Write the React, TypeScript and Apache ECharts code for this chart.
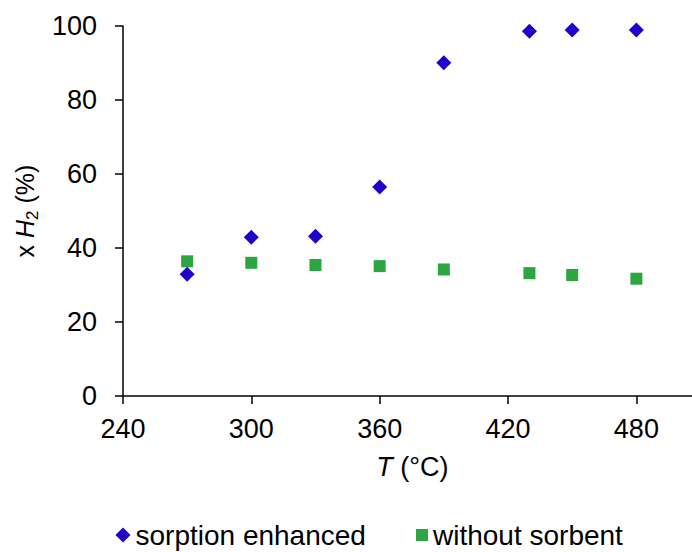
import React, { useEffect, useRef } from "react";
import * as echarts from "echarts";

const temperatures = [270, 300, 330, 360, 390, 430, 450, 480];
const sorptionEnhanced = [32.9, 42.9, 43.2, 56.5, 90.1, 98.6, 98.9, 98.9];
const withoutSorbent = [36.4, 36.0, 35.4, 35.1, 34.2, 33.2, 32.7, 31.7];
const xTicks = [240, 300, 360, 420, 480];
const seriesNames = ["sorption enhanced", "without sorbent"];

const FONT = "'Liberation Sans', Arial, sans-serif";
const BLUE = "#2200CC";
const GREEN = "#2BA640";

export default function App() {
  const ref = useRef<HTMLDivElement>(null);
  useEffect(() => {
    document.body.style.margin = "0";
    const chart = echarts.init(ref.current!, null, { renderer: "svg" });
    const pairs = (ys: number[]) => temperatures.map((t, i) => [t, ys[i]]);
    chart.setOption({
      animation: false,
      backgroundColor: "#ffffff",
      textStyle: { fontFamily: FONT, color: "#000" },
      grid: { left: 119.5, top: 26, right: 0, bottom: 156 },
      xAxis: {
        type: "value",
        min: 240,
        max: 506,
        interval: 60,
        name: "{i|T}{n| (°C)}",
        nameLocation: "middle",
        nameGap: 57,
        nameTextStyle: {
          padding: [0, 0, 0, 10],
          rich: {
            i: { fontFamily: FONT, fontSize: 27, fontStyle: "italic", color: "#000", lineHeight: 27 },
            n: { fontFamily: FONT, fontSize: 27, color: "#000", lineHeight: 27 },
          },
        },
        axisLine: { show: true, onZero: false, lineStyle: { color: "#000", width: 1.5 } },
        axisTick: { show: true, inside: false, length: 8, customValues: xTicks, lineStyle: { color: "#000", width: 1.5 } },
        axisLabel: { margin: 19, fontSize: 27, color: "#000", fontFamily: FONT, customValues: xTicks },
        splitLine: { show: false },
      },
      yAxis: {
        type: "value",
        min: 0,
        max: 100,
        interval: 20,
        name: "{n|x }{i|H}{s|2}{n| (%)}",
        nameLocation: "middle",
        nameRotate: 90,
        nameGap: 68,
        nameTextStyle: {
          rich: {
            n: { fontFamily: FONT, fontSize: 25, color: "#000", lineHeight: 25 },
            i: { fontFamily: FONT, fontSize: 25, fontStyle: "italic", color: "#000", lineHeight: 25 },
            s: { fontFamily: FONT, fontSize: 17, color: "#000", lineHeight: 17, padding: [16, 0, 0, 0] },
          },
        },
        axisLine: { show: true, lineStyle: { color: "#000", width: 1.5 } },
        axisTick: { show: true, inside: false, length: 8, lineStyle: { color: "#000", width: 1.5 } },
        axisLabel: { margin: 26, fontSize: 27, color: "#000", fontFamily: FONT },
        splitLine: { show: false },
      },
      legend: [
        {
          data: [{ name: seriesNames[0], icon: "diamond" }],
          left: 115.5,
          top: 521,
          padding: 0,
          itemWidth: 15,
          itemHeight: 15,
          itemStyle: { opacity: 1 },
          textStyle: { fontSize: 28, fontFamily: FONT, color: "#000", lineHeight: 28 },
        },
        {
          data: [{ name: seriesNames[1], icon: "rect" }],
          left: 416,
          top: 521,
          padding: 0,
          itemWidth: 12,
          itemHeight: 12,
          itemStyle: { opacity: 1 },
          textStyle: { fontSize: 28, fontFamily: FONT, color: "#000", lineHeight: 28 },
        },
      ],
      series: [
        {
          name: seriesNames[0],
          type: "scatter",
          symbol: "diamond",
          symbolSize: 15,
          itemStyle: { color: BLUE, opacity: 1 },
          data: pairs(sorptionEnhanced),
          z: 3,
        },
        {
          name: seriesNames[1],
          type: "scatter",
          symbol: "rect",
          symbolSize: 12,
          itemStyle: { color: GREEN, opacity: 1 },
          data: pairs(withoutSorbent),
          z: 2,
        },
      ],
    });
    return () => chart.dispose();
  }, []);
  return <div ref={ref} style={{ width: 692, height: 552 }} />;
}
